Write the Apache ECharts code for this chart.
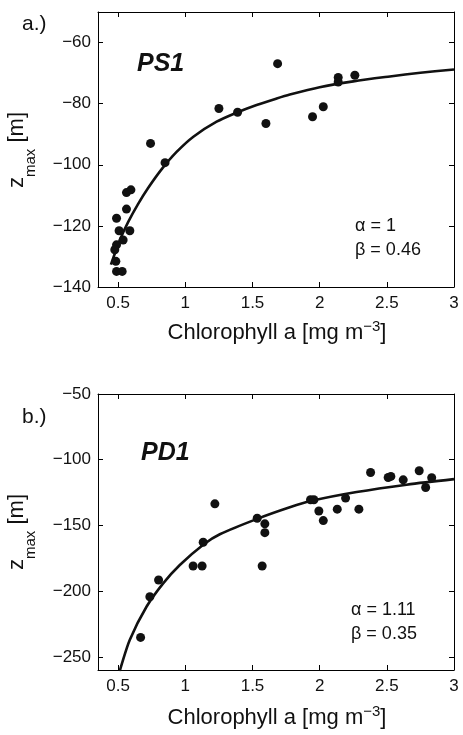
<!DOCTYPE html>
<html><head><meta charset="utf-8">
<script src="https://cdn.jsdelivr.net/npm/echarts@6/dist/echarts.min.js"></script>
<style>html,body{margin:0;padding:0;background:#fff}#c{width:463px;height:735px}</style>
</head><body><div id="c"></div>
<script>
// ---- data ----
const xTicks = [0.5, 1, 1.5, 2, 2.5, 3];
const yTicksA = [-140, -120, -100, -80, -60];
const yTicksB = [-250, -200, -150, -100, -50];

const ps1Chl = [1.687, 2.262, 2.138, 2.138, 1.25, 1.389, 1.60, 1.947, 2.027, 0.741, 0.849, 0.595, 0.562, 0.562, 0.488, 0.507, 0.587, 0.537, 0.488, 0.475, 0.483, 0.488, 0.530];
const ps1Z   = [-66.9, -70.7, -71.4, -72.9, -81.6, -82.8, -86.5, -84.3, -81.0, -93.0, -99.3, -108.2, -109.1, -114.5, -117.5, -121.6, -121.6, -124.6, -126.2, -127.8, -131.6, -134.9, -134.9];
const ps1FitChl = [0.446, 0.513, 0.575, 0.649, 0.723, 0.823, 0.935, 1.06, 1.233, 1.389, 1.5, 1.68, 1.778, 2.0, 2.25, 2.523, 2.75, 3.0];
const ps1FitZ   = [-132.7, -124.6, -118.7, -112.8, -107.6, -101.5, -95.8, -90.8, -85.9, -82.8, -80.9, -78.3, -77.0, -74.6, -72.7, -71.1, -69.9, -68.8];

const pd1Chl = [0.667, 0.736, 0.801, 1.058, 1.125, 1.133, 1.22, 1.535, 1.592, 1.592, 1.572, 1.932, 1.957, 1.994, 2.027, 2.131, 2.193, 2.292, 2.379, 2.51, 2.53, 2.622, 2.741, 2.789, 2.834];
const pd1Z   = [-235.2, -204.3, -191.5, -180.9, -180.9, -162.8, -133.6, -144.5, -148.8, -155.5, -180.9, -130.5, -130.5, -139.0, -146.3, -137.6, -129.2, -137.6, -109.7, -113.5, -112.7, -115.3, -108.4, -121.1, -113.7];
const pd1FitChl = [0.512, 0.518, 0.587, 0.711, 0.835, 0.959, 1.138, 1.257, 1.535, 1.778, 1.94, 2.275, 2.647, 3.0];
const pd1FitZ   = [-261.0, -258.5, -236.9, -211.9, -194.1, -180.1, -164.3, -156.7, -145.0, -136.2, -131.3, -124.6, -119.0, -114.8];

// ---- chart ----
const FONT = 'Liberation Sans, Arial, Helvetica, sans-serif';
const minus = v => String(v).replace('-', '\u2212');
const zip = (a, b) => a.map((v, i) => [v, b[i]]);

function xAx(grid, pos) {
  return {
    type: 'value', gridIndex: grid, position: pos, min: 0.35, max: 3,
    axisLine: { show: true, onZero: false, lineStyle: { color: '#000', width: 1 } },
    axisTick: { show: true, inside: true, length: 5, customValues: xTicks, lineStyle: { color: '#000', width: 1 } },
    axisLabel: { show: pos === 'bottom', customValues: xTicks, fontSize: 17, color: '#111', margin: 8, fontFamily: FONT, formatter: minus },
    splitLine: { show: false }
  };
}
function yAx(grid, pos, min, max, ticks) {
  return {
    type: 'value', gridIndex: grid, position: pos, min: min, max: max,
    axisLine: { show: true, onZero: false, lineStyle: { color: '#000', width: 1 } },
    axisTick: { show: true, inside: true, length: 5, customValues: ticks, lineStyle: { color: '#000', width: 1 } },
    axisLabel: { show: pos === 'left', customValues: ticks, fontSize: 17, color: '#111', margin: 7, fontFamily: FONT, formatter: minus },
    splitLine: { show: false }
  };
}

const txt = (x, y, text, size, extra) => ({
  type: 'text', x: x, y: y, silent: true,
  style: Object.assign({ text: text, fontSize: size, fontFamily: FONT, fill: '#111', align: 'left', verticalAlign: 'middle' }, extra || {})
});

const xName = (y) => ({
  type: 'text', x: 277, y: y, silent: true,
  style: {
    text: '{m|Chlorophyll a [mg m}{s|\u22123}{m|]}',
    align: 'center', verticalAlign: 'middle', fill: '#111', fontFamily: FONT,
    rich: {
      m: { fontSize: 22, lineHeight: 26, verticalAlign: 'bottom', fontFamily: FONT, fill: '#111' },
      s: { fontSize: 15, lineHeight: 18, verticalAlign: 'bottom', padding: [0, 0, 10, 0], fontFamily: FONT, fill: '#111' }
    }
  }
});
const yName = (y) => ({
  type: 'text', x: 25, y: y, rotation: Math.PI / 2, silent: true,
  style: {
    text: '{m|z}{s|max}{m| [m]}',
    align: 'center', verticalAlign: 'middle', fill: '#111', fontFamily: FONT,
    rich: {
      m: { fontSize: 22, lineHeight: 26, verticalAlign: 'bottom', padding: [0, 0, 10, 0], fontFamily: FONT, fill: '#111' },
      s: { fontSize: 15, lineHeight: 18, verticalAlign: 'bottom', fontFamily: FONT, fill: '#111' }
    }
  }
});

const lineS = { color: '#111', width: 2.6 };
const dot = { color: '#111', opacity: 1 };

const chart = echarts.init(document.getElementById('c'), null, { renderer: 'canvas' });
chart.setOption({
  animation: false,
  backgroundColor: '#fff',
  grid: [
    { left: 98, top: 12, width: 356, height: 275 },
    { left: 98, top: 394, width: 356, height: 276 }
  ],
  xAxis: [xAx(0, 'bottom'), xAx(0, 'top'), xAx(1, 'bottom'), xAx(1, 'top')],
  yAxis: [
    yAx(0, 'left', -140, -50, yTicksA), yAx(0, 'right', -140, -50, yTicksA),
    yAx(1, 'left', -260, -50, yTicksB), yAx(1, 'right', -260, -50, yTicksB)
  ],
  series: [
    { type: 'line', xAxisIndex: 0, yAxisIndex: 0, data: zip(ps1FitChl, ps1FitZ), showSymbol: false, smooth: 0.3, clip: true, lineStyle: lineS, z: 3 },
    { type: 'scatter', xAxisIndex: 0, yAxisIndex: 0, data: zip(ps1Chl, ps1Z), symbolSize: 9, itemStyle: dot, z: 4 },
    { type: 'line', xAxisIndex: 2, yAxisIndex: 2, data: zip(pd1FitChl, pd1FitZ), showSymbol: false, smooth: 0.3, clip: true, lineStyle: lineS, z: 3 },
    { type: 'scatter', xAxisIndex: 2, yAxisIndex: 2, data: zip(pd1Chl, pd1Z), symbolSize: 9, itemStyle: dot, z: 4 }
  ],
  graphic: [
    txt(22, 24, 'a.)', 21),
    txt(22, 417, 'b.)', 21),
    txt(137, 64, 'PS1', 25, { fontWeight: 'bold', fontStyle: 'italic' }),
    txt(141, 453, 'PD1', 25, { fontWeight: 'bold', fontStyle: 'italic' }),
    txt(355, 226, '\u03b1 = 1', 18),
    txt(355, 250, '\u03b2 = 0.46', 18),
    txt(351, 610, '\u03b1 = 1.11', 18),
    txt(351, 634, '\u03b2 = 0.35', 18),
    xName(331), xName(716),
    yName(150), yName(532)
  ]
});
</script>
</body></html>
